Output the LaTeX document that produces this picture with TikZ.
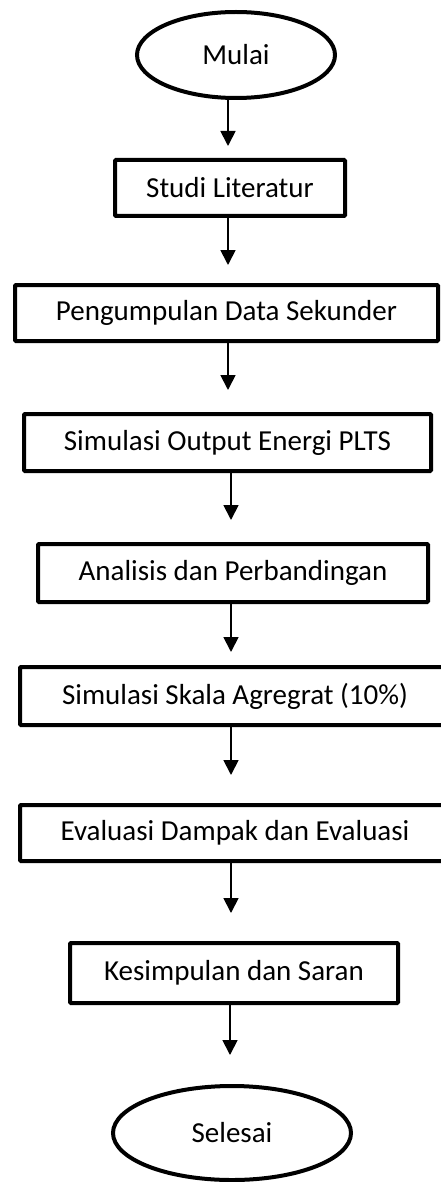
\documentclass[tikz,border=0pt]{standalone}
\usepackage{fontspec}
\setmainfont{Carlito}
\usetikzlibrary{shapes.geometric,arrows.meta}
\tikzset{
  lbl/.style={font=\fontsize{29}{33}\selectfont, inner sep=0pt},
  stepbox/.style={lbl, draw, line width=4pt, rectangle, rounded corners=1pt},
  term/.style={lbl, draw, line width=4pt, ellipse},
  arr/.style={draw, line width=1.8pt, -{Triangle[width=15pt,length=15pt]}},
}
\begin{document}
\begin{tikzpicture}[x=1pt,y=-1pt]
\useasboundingbox (0,0) rectangle (441,1182);
\clip (0,0) rectangle (441,1182);
\node[term, minimum width=198pt, minimum height=86pt] (n0) at (236,55) {Mulai};
\node[stepbox, minimum width=230pt, minimum height=56pt] (n1) at (230,188) {Studi Literatur};
\node[stepbox, minimum width=423pt, minimum height=56pt] (n2) at (226.5,313) {Pengumpulan Data Sekunder};
\node[stepbox, minimum width=407pt, minimum height=57pt] (n3) at (227.5,442.5) {Simulasi Output Energi PLTS};
\node[stepbox, minimum width=390pt, minimum height=58pt] (n4) at (233,573) {Analisis dan Perbandingan};
\node[stepbox, minimum width=430pt, minimum height=58pt] (n5) at (235,696) {Simulasi Skala Agregrat (10\%)};
\node[stepbox, minimum width=430pt, minimum height=56pt] (n6) at (235,833) {Evaluasi Dampak dan Evaluasi};
\node[stepbox, minimum width=328pt, minimum height=60pt] (n7) at (234,973) {Kesimpulan dan Saran};
\node[term, minimum width=238pt, minimum height=94pt] (n8) at (232,1133) {Selesai};
\coordinate (xa) at (228,0);
\coordinate (xb) at (231,0);
\coordinate (xc) at (230,0);
\draw[arr, shorten >=12pt] (n0.south -| xa) -- (n1.north -| xa);
\draw[arr, shorten >=18pt] (n1.south -| xa) -- (n2.north -| xa);
\draw[arr, shorten >=22pt] (n2.south -| xa) -- (n3.north -| xa);
\draw[arr, shorten >=22pt] (n3.south -| xb) -- (n4.north -| xb);
\draw[arr, shorten >=13pt] (n4.south -| xb) -- (n5.north -| xb);
\draw[arr, shorten >=28pt] (n5.south -| xb) -- (n6.north -| xb);
\draw[arr, shorten >=28pt] (n6.south -| xb) -- (n7.north -| xb);
\draw[arr, shorten >=29pt] (n7.south -| xc) -- (n8.north -| xc);
\end{tikzpicture}
\end{document}
